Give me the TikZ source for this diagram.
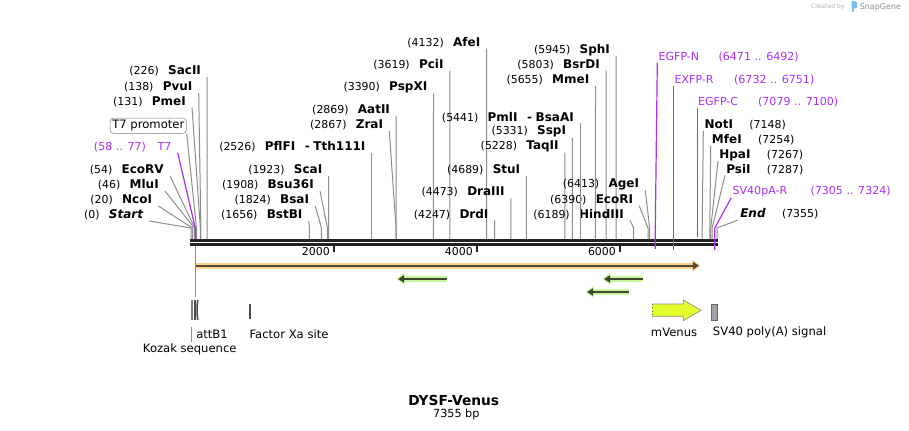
\documentclass[tikz,border=0pt]{standalone}
\usepackage{fontspec}
\setmainfont{DejaVu Sans}
\usepackage{xcolor}
\usepackage{tikz}
\usetikzlibrary{positioning,%
  arrows.meta,%
  calc
}

\definecolor{siteline}{RGB}{140,140,140}
\definecolor{bbone}{RGB}{34,34,34}
\definecolor{primerpurple}{RGB}{170,48,238}
\definecolor{orfhalo}{RGB}{252,211,140}
\definecolor{orfdark}{RGB}{85,72,55}
\definecolor{greenhalo}{RGB}{200,248,155}
\definecolor{greendark}{RGB}{60,72,50}
\definecolor{venusfill}{RGB}{227,255,46}
\definecolor{polyafill}{RGB}{160,165,172}
\definecolor{snapblue}{RGB}{120,190,232}

\newcommand{\enzbf}[1]{{\fontsize{9}{10}\selectfont\bfseries #1}}
\newcommand{\enz}[2]{(#1)\hspace{0.85em}\enzbf{#2}}
\newcommand{\enzr}[2]{\enzbf{#1}\hspace{1.5em}(#2)}

\tikzset{
  site/.style={font=\fontsize{8.2}{10}\selectfont, inner sep=0pt},
  primlab/.style={site, text=primerpurple, font=\fontsize{8.3}{10}\selectfont},
  featlab/.style={font=\fontsize{8.7}{10}\selectfont, inner sep=0pt, anchor=west},
  cutline/.style={draw=siteline, line width=0.75pt},
  primer/.style={draw=primerpurple, line width=0.9pt},
  backbone/.style={draw=bbone, line width=1.9pt},
  tickmark/.style={draw=bbone, line width=1.4pt},
  promo/.style={site, draw=gray, rounded corners=2.5pt, inner sep=1.6pt, font=\fontsize{8.7}{10}\selectfont},
  halo/.style={line width=4.5pt, -{Triangle[length=6pt,width=9pt]}},
  core/.style={line width=1.5pt, shorten >=1.2pt, -{Triangle[length=4.5pt,width=5.5pt]}},
  featbar/.style={draw=black!70, line width=1.2pt}
}

\begin{document}
\begin{tikzpicture}[x=0.75pt,y=-0.75pt]
\useasboundingbox (0,0) rectangle (909,431);

% backbone and ruler
\coordinate (bbL) at (190,240.3);
\coordinate (bbR) at (718,240.3);
\coordinate (bbL2) at (190,244.5);
\coordinate (bbR2) at (718,244.5);
\draw[backbone] (bbL) -- (bbR);
\draw[backbone] (bbL2) -- (bbR2);
\foreach \k in {2000,4000,6000}{
  \pgfmathsetmacro\xk{191+0.07152*\k}
  \coordinate (r\k) at (\xk,246);
  \coordinate (rr\k) at (\xk,252.3);
  \draw[tickmark] (r\k) -- (rr\k);
  \node[site, anchor=east] (rl\k) at (\xk-4,252) {\k};
}

% cut sites, label on the left
\foreach \nm/\p/\tx/\ty in {SacII/226/207.2/77, PvuI/138/198.7/93, PmeI/131/192/107.7,
    EcoRV/54/170/176, MluI/46/165/191, NcoI/20/158.3/206,
    ScaI/1923/328.5/176, Bsu36I/1908/320/191, BsaI/1824/315.3/206, BstBI/1656/308.7/221,
    AatII/2869/396.2/116, ZraI/2867/389.3/131, PspXI/3390/433.5/93.3, PciI/3619/449.8/71,
    AfeI/4132/486.5/48.7, DrdI/4247/494.7/220.3, DraIII/4473/510.9/198.3, StuI/4689/526.4/176,
    TaqII/5228/564.9/152.7, SspI/5331/572.3/137.7, MmeI/5655/595.5/86, BsrDI/5803/606/70.7,
    SphI/5945/616.2/56, HindIII/6189/630/220.3, EcoRI/6390/639.3/206, AgeI/6413/645.3/190.3}{
  \pgfmathsetmacro\xs{191+0.07152*\p}
  \coordinate (t\nm) at (\tx,\ty);
  \coordinate (k\nm) at (\xs,228);
  \coordinate (s\nm) at (\xs,239);
  \node[site, left=4.5pt of t\nm, yshift=4.5pt] (l\nm) {\enz{\p}{\nm}};
  \draw[cutline] (t\nm) -- (k\nm) -- (s\nm);
}
\coordinate (tPflFI) at (371.7,152.7);
\coordinate (sPflFI) at (371.7,239);
\node[site, left=4.5pt of tPflFI, yshift=4.5pt] (lPflFI)
  {(2526)\hspace{0.85em}\enzbf{PflFI\hspace{0.8em}-\hspace{0.3em}Tth111I}};
\draw[cutline] (tPflFI) -- (sPflFI);
\coordinate (tPmlI) at (580.1,123.3);
\coordinate (sPmlI) at (580.1,239);
\node[site, left=4.5pt of tPmlI, yshift=4.5pt] (lPmlI)
  {(5441)\hspace{0.85em}\enzbf{PmlI\hspace{0.8em}-\hspace{0.3em}BsaAI}};
\draw[cutline] (tPmlI) -- (sPmlI);
\coordinate (tStart) at (149.3,221);
\coordinate (kStart) at (191,228);
\coordinate (sStart) at (191,239);
\node[site, left=4.5pt of tStart, yshift=4.5pt] (lStart)
  {(0)\hspace{0.85em}\enzbf{\itshape Start}};
\draw[cutline] (tStart) -- (kStart) -- (sStart);

% T7 promoter and T7 primer
\node[promo, anchor=east] (lT7p) at (186.7,125.7) {T7 promoter};
\coordinate (kT7p) at (196.5,228);
\coordinate (sT7p) at (196.5,239);
\draw[cutline] (lT7p.south east) -- (kT7p) -- (sT7p);
\coordinate (tT7) at (177.7,152.7);
\coordinate (kT7) at (195.3,228);
\coordinate (sT7) at (195.3,239);
\node[primlab, left=4.5pt of tT7, yshift=4.5pt] (lT7) {(58 .. 77)\hspace{1.05em}T7};
\draw[primer] (tT7) -- (kT7) -- (sT7);

% cut sites, label on the right
\foreach \nm/\p/\tx/\ty in {NotI/7148/703.3/131, MfeI/7254/710.7/146, HpaI/7267/718/161, PsiI/7287/725/175.3}{
  \pgfmathsetmacro\xs{191+0.07152*\p}
  \coordinate (t\nm) at (\tx,\ty);
  \coordinate (k\nm) at (\xs,228);
  \coordinate (s\nm) at (\xs,239);
  \node[site, right=0.75pt of t\nm, yshift=4.5pt] (l\nm) {\enzr{\nm}{\p}};
  \draw[cutline] (t\nm) -- (k\nm) -- (s\nm);
}
\coordinate (tEnd) at (738,220);
\coordinate (kEnd) at (717,228);
\coordinate (sEnd) at (717,239);
\node[site, right=1.5pt of tEnd, yshift=4.5pt] (lEnd)
  {\enzbf{\itshape End}\hspace{1.5em}(7355)};
\draw[cutline] (tEnd) -- (kEnd) -- (sEnd);

% primers on the right
\coordinate (tEGFPN) at (657.3,62.7);
\coordinate (kEGFPN) at (655.3,228);
\coordinate (sEGFPN) at (655.3,249);
\node[primlab, right=0.75pt of tEGFPN, yshift=4.5pt] (lEGFPN) {EGFP-N\hspace{1.75em}(6471 .. 6492)};
\draw[primer] (tEGFPN) -- (kEGFPN) -- (sEGFPN);
\coordinate (tEXFPR) at (673.8,86);
\coordinate (sEXFPR) at (673.8,250);
\node[primlab, right=0.4pt of tEXFPR, yshift=4.5pt] (lEXFPR) {EXFP-R\hspace{1.85em}(6732 .. 6751)};
\draw[primer] (tEXFPR) -- (sEXFPR);
\coordinate (tEGFPC) at (697.3,107.7);
\coordinate (sEGFPC) at (697.3,236.7);
\node[primlab, right=0.4pt of tEGFPC, yshift=4.5pt] (lEGFPC) {EGFP-C\hspace{1.8em}(7079 .. 7100)};
\draw[primer] (tEGFPC) -- (sEGFPC);
\coordinate (tSVR) at (731.3,197.7);
\coordinate (kSVR) at (714.8,228);
\coordinate (sSVR) at (714.8,250);
\node[primlab, right=0.75pt of tSVR, yshift=4.5pt] (lSVR) {SV40pA-R\hspace{2.1em}(7305 .. 7324)};
\draw[primer] (tSVR) -- (kSVR) -- (sSVR);

% open reading frames
\coordinate (orfA) at (196,265.7);
\coordinate (orfB) at (700.5,265.7);
\draw[halo, draw=orfhalo, fill=orfhalo] (orfA) -- (orfB);
\draw[core, draw=orfdark, fill=orfdark] (orfA) -- (orfB);
\coordinate (g1A) at (447.3,279);
\coordinate (g1B) at (396.5,279);
\coordinate (g2A) at (643.3,279);
\coordinate (g2B) at (602.5,279);
\coordinate (g3A) at (629,292);
\coordinate (g3B) at (585.5,292);
\foreach \g in {1,2,3}{
  \draw[halo, draw=greenhalo, fill=greenhalo] (g\g A) -- (g\g B);
  \draw[core, draw=greendark, fill=greendark] (g\g A) -- (g\g B);
}

% features
\coordinate (fdrop) at (195.7,246);
\coordinate (fdropB) at (195.7,297.3);
\draw[draw=siteline, line width=0.75pt] (fdrop) -- (fdropB);
\draw[featbar, draw=black!50] (192.2,300) -- (192.2,320);
\draw[featbar] (195,300) -- (195,320);
\draw[featbar] (197.8,300) .. controls (196.8,306) and (196.8,314) .. (197.8,320);
\draw[featbar] (250,304) -- (250,319.3);
\coordinate (kzA) at (191.7,327.3);
\coordinate (kzB) at (191.7,341.7);
\draw[draw=siteline, line width=0.75pt] (kzA) -- (kzB);
\node[featlab] (lattB) at (196,334.3) {attB1};
\node[featlab] (lfxa) at (249.3,334.3) {Factor Xa site};
\node[featlab] (lkozak) at (142.7,349.3) {Kozak sequence};

\filldraw[fill=venusfill, draw=black!45, line width=0.5pt]
  (652,304) -- (683.3,304) -- (683.3,300) -- (701,310.3) -- (683.3,320.7) -- (683.3,316.3) -- (652,316.3);
\draw[draw=black!70, line width=0.6pt, dotted] (652,304) -- (652,316.3);
\node[fill=polyafill, draw=black!60, line width=0.5pt, minimum width=4.2pt, minimum height=12.5pt,
  inner sep=0pt] (polyA) at (714.5,312.3) {};
\node[featlab] (lvenus) at (650.7,332.3) {mVenus};
\node[featlab] (lpolyA) at (712.7,332.3) {SV40 poly(A) signal};

% title
\node[font=\fontsize{10.3}{12}\selectfont\bfseries, inner sep=0pt] (title) at (453.7,400) {DYSF-Venus};
\node[font=\fontsize{8.4}{10}\selectfont, inner sep=0pt] (bp) at (456.3,414.5) {7355 bp};

% watermark
\node[font=\fontsize{4.6}{5}\selectfont, text=black!30, inner sep=0pt, anchor=east] (wm1) at (845,7) {Created by};
\fill[snapblue, rounded corners=0.8pt] (851.5,1.5) rectangle (857,8.5);
\fill[snapblue] (851.5,1.5) rectangle (853.8,12.5);
\node[font=\fontsize{6}{7}\selectfont, text=black!45, inner sep=0pt, anchor=west] (wm2) at (859.5,7) {SnapGene};
\end{tikzpicture}
\end{document}
